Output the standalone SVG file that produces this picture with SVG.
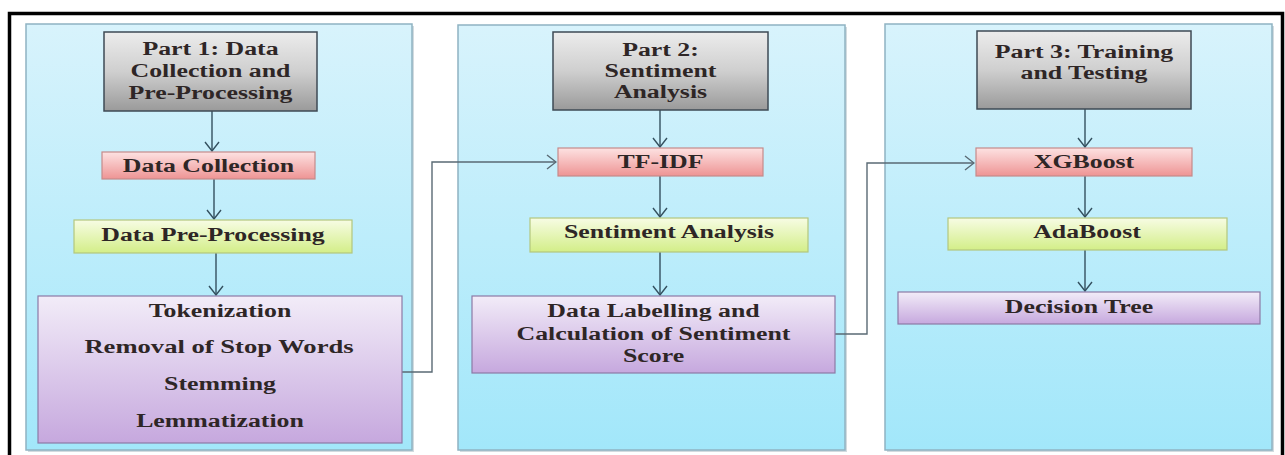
<svg xmlns="http://www.w3.org/2000/svg" width="1285" height="455" viewBox="0 0 1285 455">
<defs>
<linearGradient id="gPanel" x1="0" y1="0" x2="0" y2="1"><stop offset="0" stop-color="#d8f3fc"/><stop offset="1" stop-color="#a2e7fa"/></linearGradient>
<linearGradient id="gGray" x1="0" y1="0" x2="0" y2="1"><stop offset="0" stop-color="#ececec"/><stop offset="0.5" stop-color="#cfcfcf"/><stop offset="1" stop-color="#9a9a9a"/></linearGradient>
<linearGradient id="gPink" x1="0" y1="0" x2="0" y2="1"><stop offset="0" stop-color="#fde2e2"/><stop offset="1" stop-color="#ee9494"/></linearGradient>
<linearGradient id="gGreen" x1="0" y1="0" x2="0" y2="1"><stop offset="0" stop-color="#f7fce4"/><stop offset="1" stop-color="#d3ee88"/></linearGradient>
<linearGradient id="gPurple" x1="0" y1="0" x2="0" y2="1"><stop offset="0" stop-color="#f2ecf8"/><stop offset="1" stop-color="#c6a8de"/></linearGradient>
<marker id="arr" viewBox="0 0 16 16" refX="15" refY="8" markerWidth="16" markerHeight="16" markerUnits="userSpaceOnUse" orient="auto">
<path d="M6,1 L15,8 L6,15" fill="none" stroke="#34505f" stroke-width="1.4"/>
</marker>
<marker id="arrG" viewBox="0 0 16 16" refX="15" refY="8" markerWidth="16" markerHeight="16" markerUnits="userSpaceOnUse" orient="auto">
<path d="M6,1 L15,8 L6,15" fill="none" stroke="#5a6a74" stroke-width="1.4"/>
</marker>
</defs>
<style>
.panel{fill:url(#gPanel);stroke:#8fb3c2;stroke-width:1.5}
.gray{fill:url(#gGray);stroke:#3e4a54;stroke-width:1.5}
.pink{fill:url(#gPink);stroke:#c58a8a;stroke-width:1.2}
.green{fill:url(#gGreen);stroke:#b3c77e;stroke-width:1.2}
.purple{fill:url(#gPurple);stroke:#8c7aa6;stroke-width:1.2}
.t{font-family:"Liberation Serif","Times New Roman",serif;font-weight:bold;font-size:19px;fill:#2e2626;text-anchor:middle}
.arrow{stroke:#34505f;stroke-width:1.4;fill:none;marker-end:url(#arr)}
.elbow{stroke:#5a6a74;stroke-width:1.4;fill:none;marker-end:url(#arrG)}
.shadow{fill:#7f97a3;opacity:0.35}
</style>
<rect x="0" y="0" width="1285" height="455" fill="#ffffff"/>
<rect x="9.5" y="13.5" width="1273" height="470" fill="none" stroke="#000" stroke-width="3.5"/>

<g id="panel1">
<rect class="shadow" x="28" y="26" width="386" height="426"/>
<rect class="panel" x="26" y="24" width="386" height="426"/>
</g>
<g id="panel2">
<rect class="shadow" x="460" y="27" width="387" height="425"/>
<rect class="panel" x="458" y="25" width="387" height="425"/>
</g>
<g id="panel3">
<rect class="shadow" x="887" y="26" width="387" height="426"/>
<rect class="panel" x="885" y="24" width="387" height="426"/>
</g>

<g id="connectors">
<line class="arrow" x1="212" y1="111" x2="212" y2="151"/>
<line class="arrow" x1="214" y1="179" x2="214" y2="219"/>
<line class="arrow" x1="216" y1="253" x2="216" y2="295"/>
<line class="arrow" x1="660" y1="110" x2="660" y2="147"/>
<line class="arrow" x1="660" y1="176" x2="660" y2="217"/>
<line class="arrow" x1="660" y1="252" x2="660" y2="295"/>
<line class="arrow" x1="1085" y1="109" x2="1085" y2="147"/>
<line class="arrow" x1="1085" y1="176" x2="1085" y2="217"/>
<line class="arrow" x1="1085" y1="250" x2="1085" y2="291"/>
<polyline class="elbow" points="402,372 432,372 432,162 556,162"/>
<polyline class="elbow" points="835,334 867,334 867,163 974,163"/>
</g>

<g id="part1-header">
<rect class="gray" x="104" y="32" width="213" height="79"/>
<text class="t" transform="translate(210.5,55) scale(1.36,1)">Part 1: Data</text>
<text class="t" transform="translate(210.5,77) scale(1.36,1)">Collection and</text>
<text class="t" transform="translate(210.5,99) scale(1.36,1)">Pre-Processing</text>
</g>
<g id="data-collection">
<rect class="pink" x="102" y="152" width="213" height="27"/>
<text class="t" transform="translate(208.5,172) scale(1.36,1)">Data Collection</text>
</g>
<g id="data-preprocessing">
<rect class="green" x="74" y="220" width="278" height="33"/>
<text class="t" transform="translate(213,241) scale(1.36,1)">Data Pre-Processing</text>
</g>
<g id="preprocessing-steps">
<rect class="purple" x="38" y="296" width="364" height="147"/>
<text class="t" transform="translate(220,317) scale(1.36,1)">Tokenization</text>
<text class="t" transform="translate(219,353) scale(1.4,1)">Removal of Stop Words</text>
<text class="t" transform="translate(220,390) scale(1.36,1)">Stemming</text>
<text class="t" transform="translate(220,427) scale(1.36,1)">Lemmatization</text>
</g>

<g id="part2-header">
<rect class="gray" x="553" y="32" width="215" height="78"/>
<text class="t" transform="translate(660.5,56) scale(1.36,1)">Part 2:</text>
<text class="t" transform="translate(660.5,77) scale(1.36,1)">Sentiment</text>
<text class="t" transform="translate(660.5,98) scale(1.36,1)">Analysis</text>
</g>
<g id="tf-idf">
<rect class="pink" x="558" y="148" width="205" height="28"/>
<text class="t" transform="translate(660.5,168) scale(1.36,1)">TF-IDF</text>
</g>
<g id="sentiment-analysis">
<rect class="green" x="530" y="218" width="278" height="34"/>
<text class="t" transform="translate(669,238) scale(1.36,1)">Sentiment Analysis</text>
</g>
<g id="data-labelling">
<rect class="purple" x="472" y="296" width="363" height="77"/>
<text class="t" transform="translate(653.5,317) scale(1.36,1)">Data Labelling and</text>
<text class="t" transform="translate(653.5,340) scale(1.36,1)">Calculation of Sentiment</text>
<text class="t" transform="translate(653.5,362) scale(1.36,1)">Score</text>
</g>

<g id="part3-header">
<rect class="gray" x="977" y="31" width="214" height="78"/>
<text class="t" transform="translate(1084,58) scale(1.36,1)">Part 3: Training</text>
<text class="t" transform="translate(1084,79) scale(1.36,1)">and Testing</text>
</g>
<g id="xgboost">
<rect class="pink" x="976" y="148" width="216" height="28"/>
<text class="t" transform="translate(1084,168) scale(1.36,1)">XGBoost</text>
</g>
<g id="adaboost">
<rect class="green" x="948" y="218" width="279" height="32"/>
<text class="t" transform="translate(1087,238) scale(1.36,1)">AdaBoost</text>
</g>
<g id="decision-tree">
<rect class="purple" x="898" y="292" width="362" height="32"/>
<text class="t" transform="translate(1079,313) scale(1.36,1)">Decision Tree</text>
</g>
</svg>
